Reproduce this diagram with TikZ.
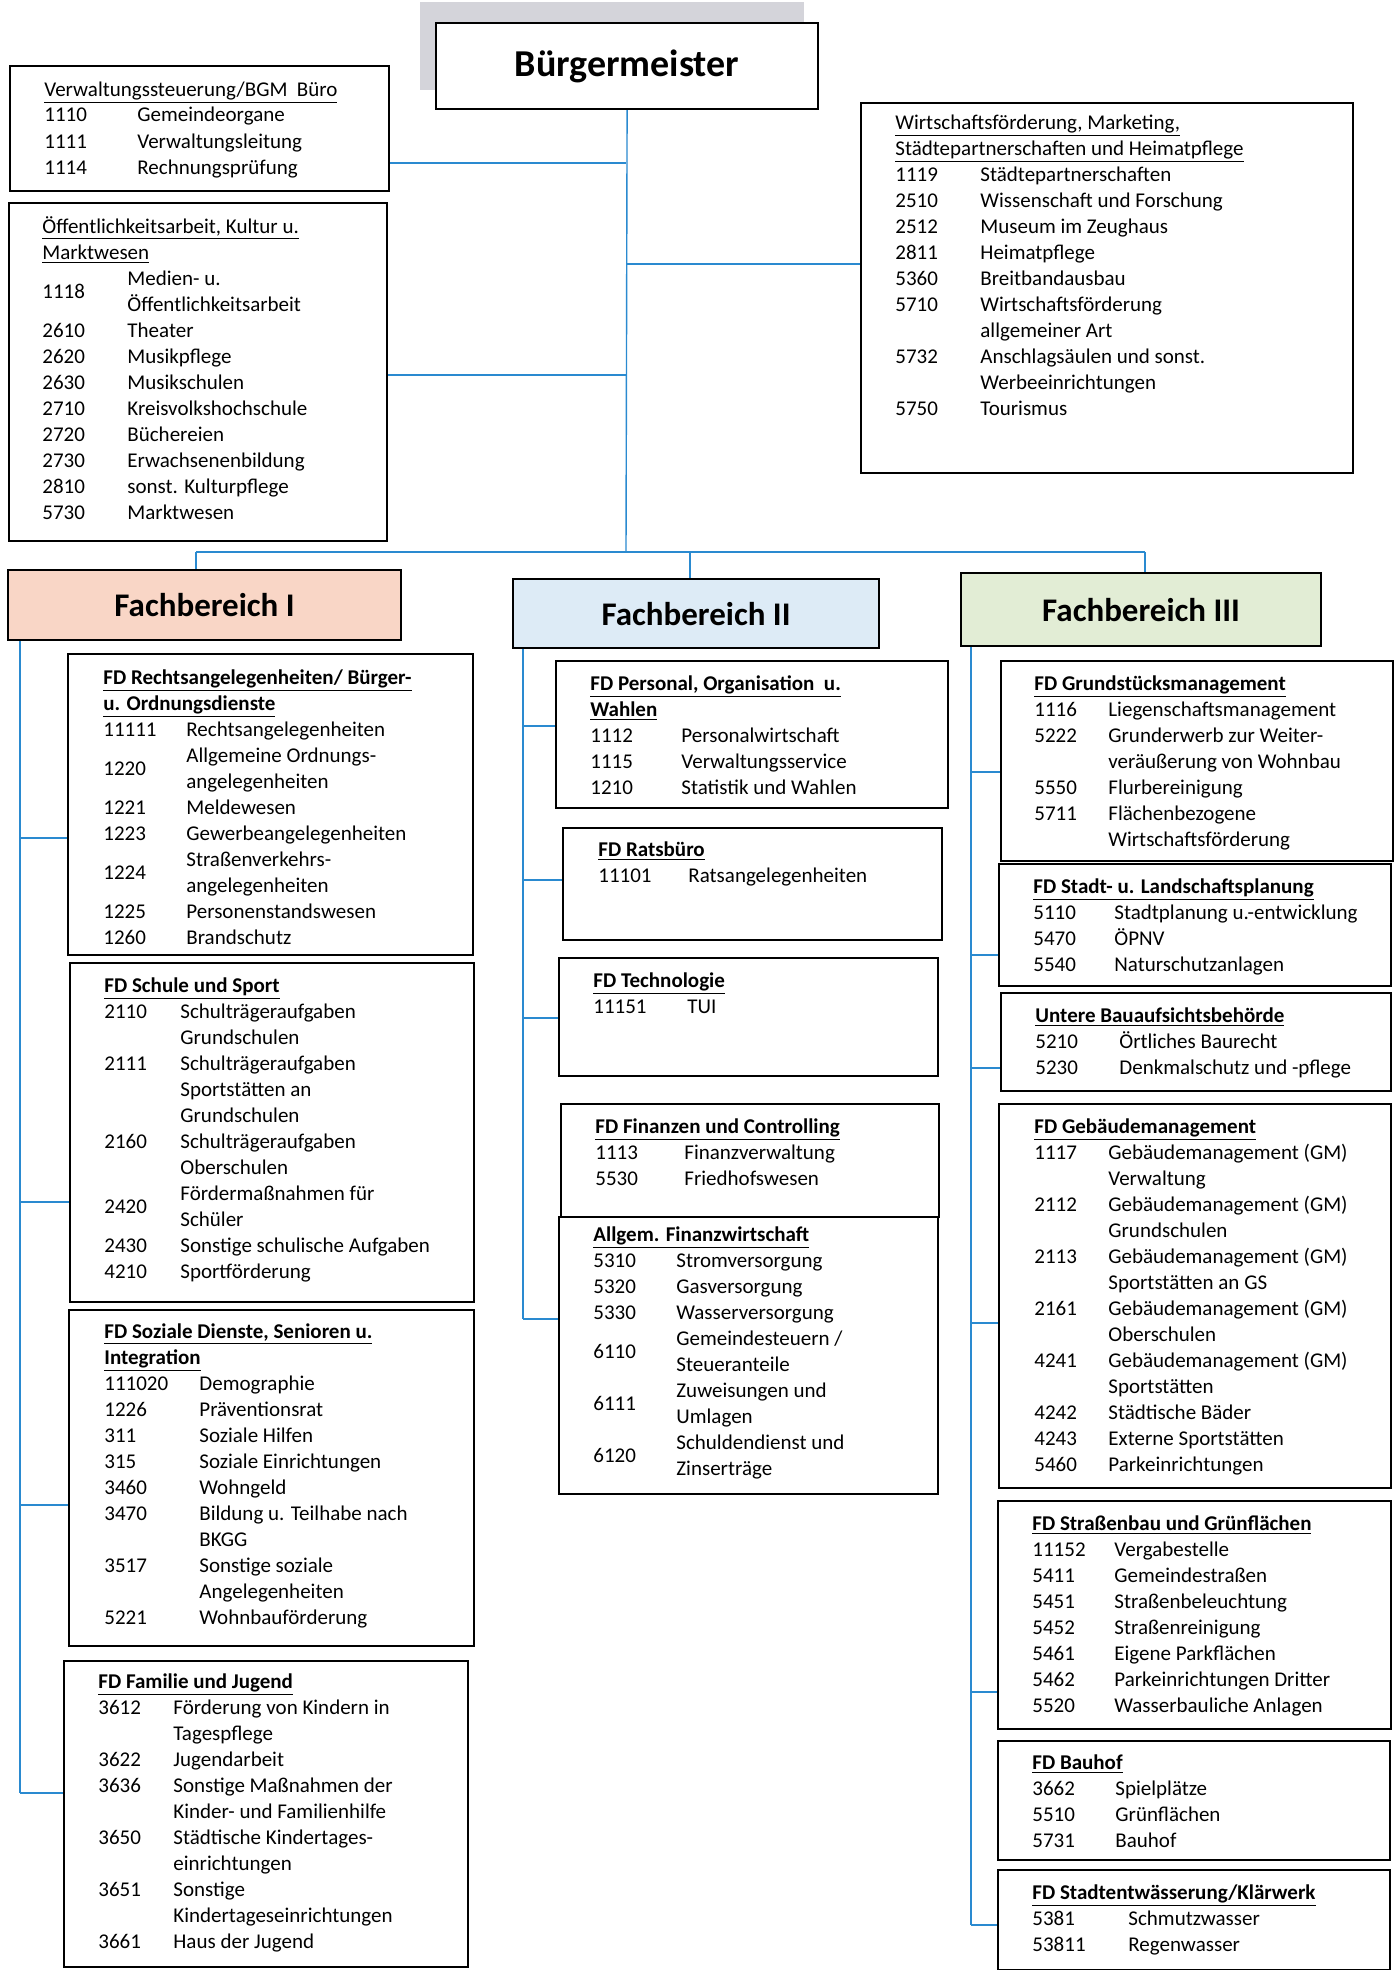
\documentclass[tikz,border=0pt]{standalone}
\usepackage{fontspec}
\setmainfont{Carlito}
\usetikzlibrary{calc}
\definecolor{connblue}{HTML}{2A8AD0}
\definecolor{fbone}{HTML}{F9D6C6}
\definecolor{fbtwo}{HTML}{DDEBF6}
\definecolor{fbthree}{HTML}{E2EDD5}
\definecolor{shadegrey}{HTML}{D4D4DA}
\newcommand\mybox[7]{\node[#6, anchor=north west, minimum width={(#4-#2)*0.5pt}, minimum height={(#5-#3)*0.5pt}] (#1) at (#2,#3) {#7};}
\newcommand\ulx[1]{\raisebox{0pt}[\height][0pt]{\underline{#1}}}
\newcommand\ttl[1]{\multicolumn{2}{@{}l@{}}{\ulx{#1}}\\}
\newcommand\bttl[1]{\multicolumn{2}{@{}l@{}}{\ulx{\textbf{#1}}}\\}
\newcommand\ent[2]{#1 & #2\\}
\newcommand\cont[1]{ & #1\\}
\newcommand\cen[3]{\raisebox{-6.5pt}[0pt][0pt]{#1} & #2\\ & #3\\}
\newcommand\tb[2]{\begin{tabular}[t]{@{}p{#1}@{}l@{}}#2\end{tabular}}
\tikzset{
  orgbox/.style={draw=black, line width=1.1pt, fill=white, inner sep=0pt},
  shadebox/.style={fill=shadegrey, draw=none, inner sep=0pt},
  fbbox/.style={orgbox, font=\bfseries\fontsize{16.5}{20}\selectfont},
  bgmbox/.style={orgbox, font=\bfseries\fontsize{19}{23}\selectfont},
  txt/.style={inner sep=0pt, anchor=base west, font=\fontsize{10.5}{13}\selectfont},
  conn/.style={draw=connblue, line width=0.7pt},
}
\begin{document}
\begin{tikzpicture}[x=0.5pt,y=-0.5pt]
\fill[white] (0,0) rectangle (1398,1970);
\useasboundingbox (0,0) rectangle (1398,1970);

% ---------- top ----------
\mybox{shade}{420}{2}{804}{90}{shadebox}{}
\mybox{bgm}{435}{22}{817}{108}{bgmbox}{Bürgermeister}
\mybox{verw}{9}{65}{388}{190}{orgbox}{}
\mybox{oeff}{8}{202}{386}{540}{orgbox}{}
\mybox{wirt}{860}{102}{1352}{472}{orgbox}{}

\node[txt] (verw-t) at (44,96) {\tb{46.5pt}{%
\ttl{Verwaltungssteuerung/BGM\ \ Büro}
\ent{1110}{Gemeindeorgane}
\ent{1111}{Verwaltungsleitung}
\ent{1114}{Rechnungsprüfung}}};

\node[txt] (oeff-t) at (42,233) {\tb{42.5pt}{%
\ttl{Öffentlichkeitsarbeit, Kultur u.}
\ttl{Marktwesen}
\cen{1118}{Medien- u.}{Öffentlichkeitsarbeit}
\ent{2610}{Theater}
\ent{2620}{Musikpflege}
\ent{2630}{Musikschulen}
\ent{2710}{Kreisvolkshochschule}
\ent{2720}{Büchereien}
\ent{2730}{Erwachsenenbildung}
\ent{2810}{sonst. Kulturpflege}
\ent{5730}{Marktwesen}}};

\node[txt] (wirt-t) at (895,129) {\tb{42.5pt}{%
\ttl{Wirtschaftsförderung, Marketing,}
\ttl{Städtepartnerschaften und Heimatpflege}
\ent{1119}{Städtepartnerschaften}
\ent{2510}{Wissenschaft und Forschung}
\ent{2512}{Museum im Zeughaus}
\ent{2811}{Heimatpflege}
\ent{5360}{Breitbandausbau}
\ent{5710}{Wirtschaftsförderung}
\cont{allgemeiner Art}
\ent{5732}{Anschlagsäulen und sonst.}
\cont{Werbeeinrichtungen}
\ent{5750}{Tourismus}}};

% trunk and top connectors
\coordinate (jverw) at (626,163);
\coordinate (jwirt) at (626,264);
\coordinate (joeff) at (626,375);
\coordinate (jbar) at (626,552);
\draw[conn] (bgm.south) -- (jbar);
\draw[conn] (jverw -| verw.east) -- (jverw);
\draw[conn] (jwirt) -- (jwirt -| wirt.west);
\draw[conn] (joeff -| oeff.east) -- (joeff);

% ---------- Fachbereiche ----------
\mybox{fb1}{7}{569}{400}{639}{fbbox, fill=fbone}{Fachbereich I}
\mybox{fb2}{512}{578}{878}{647}{fbbox, fill=fbtwo}{Fachbereich II}
\mybox{fb3}{960}{572}{1320}{645}{fbbox, fill=fbthree}{Fachbereich III}

\coordinate (barL) at (196,552);
\coordinate (barM) at (690,552);
\coordinate (barR) at (1145,552);
\draw[conn] (barL) -- (barR);
\draw[conn] (barL) -- (barL |- fb1.north);
\draw[conn] (barM) -- (barM |- fb2.north);
\draw[conn] (barR) -- (barR |- fb3.north);

% ---------- column I ----------
\mybox{rechts}{67}{653}{472}{954}{orgbox}{}
\mybox{schule}{69}{962}{473}{1301}{orgbox}{}
\mybox{sozial}{68}{1309}{473}{1645}{orgbox}{}
\mybox{familie}{63}{1660}{467}{1966}{orgbox}{}

\node[txt] (rechts-t) at (103,684) {\tb{41.5pt}{%
\bttl{FD Rechtsangelegenheiten/ Bürger-}
\bttl{u. Ordnungsdienste}
\ent{11111}{Rechtsangelegenheiten}
\cen{1220}{Allgemeine Ordnungs-}{angelegenheiten}
\ent{1221}{Meldewesen}
\ent{1223}{Gewerbeangelegenheiten}
\cen{1224}{Straßenverkehrs-}{angelegenheiten}
\ent{1225}{Personenstandswesen}
\ent{1260}{Brandschutz}}};

\node[txt] (schule-t) at (104,992) {\tb{38pt}{%
\bttl{FD Schule und Sport}
\ent{2110}{Schulträgeraufgaben}
\cont{Grundschulen}
\ent{2111}{Schulträgeraufgaben}
\cont{Sportstätten an}
\cont{Grundschulen}
\ent{2160}{Schulträgeraufgaben}
\cont{Oberschulen}
\cen{2420}{Fördermaßnahmen für}{Schüler}
\ent{2430}{Sonstige schulische Aufgaben}
\ent{4210}{Sportförderung}}};

\node[txt] (sozial-t) at (104,1338) {\tb{47.5pt}{%
\bttl{FD Soziale Dienste, Senioren u.}
\bttl{Integration}
\ent{111020}{Demographie}
\ent{1226}{Präventionsrat}
\ent{311}{Soziale Hilfen}
\ent{315}{Soziale Einrichtungen}
\ent{3460}{Wohngeld}
\ent{3470}{Bildung u. Teilhabe nach}
\cont{BKGG}
\ent{3517}{Sonstige soziale}
\cont{Angelegenheiten}
\ent{5221}{Wohnbauförderung}}};

\node[txt] (familie-t) at (98,1688) {\tb{37.5pt}{%
\bttl{FD Familie und Jugend}
\ent{3612}{Förderung von Kindern in}
\cont{Tagespflege}
\ent{3622}{Jugendarbeit}
\ent{3636}{Sonstige Maßnahmen der}
\cont{Kinder- und Familienhilfe}
\ent{3650}{Städtische Kindertages-}
\cont{einrichtungen}
\ent{3651}{Sonstige}
\cont{Kindertageseinrichtungen}
\ent{3661}{Haus der Jugend}}};

\coordinate (c1rechts) at (20,838);
\coordinate (c1schule) at (20,1202);
\coordinate (c1sozial) at (20,1505);
\coordinate (c1familie) at (20,1793);
\draw[conn] (c1rechts |- fb1.south) -- (c1familie);
\draw[conn] (c1rechts) -- (c1rechts -| rechts.west);
\draw[conn] (c1schule) -- (c1schule -| schule.west);
\draw[conn] (c1sozial) -- (c1sozial -| sozial.west);
\draw[conn] (c1familie) -- (c1familie -| familie.west);

% ---------- column II ----------
\mybox{personal}{555}{660}{947}{807}{orgbox}{}
\mybox{rats}{562}{827}{941}{939}{orgbox}{}
\mybox{tech}{558}{957}{937}{1075}{orgbox}{}
\mybox{finanzen}{560}{1103}{938}{1216}{orgbox}{}
\mybox{allgem}{558}{1216}{937}{1493}{orgbox}{}

\node[txt] (personal-t) at (590,690) {\tb{45.5pt}{%
\bttl{FD Personal, Organisation\ \ u.}
\bttl{Wahlen}
\ent{1112}{Personalwirtschaft}
\ent{1115}{Verwaltungsservice}
\ent{1210}{Statistik und Wahlen}}};

\node[txt] (rats-t) at (598,856) {\tb{45pt}{%
\bttl{FD Ratsbüro}
\ent{11101}{Ratsangelegenheiten}}};

\node[txt] (tech-t) at (593,987) {\tb{47pt}{%
\bttl{FD Technologie}
\ent{11151}{TUI}}};

\node[txt] (finanzen-t) at (595,1133) {\tb{44.5pt}{%
\bttl{FD Finanzen und Controlling}
\ent{1113}{Finanzverwaltung}
\ent{5530}{Friedhofswesen}}};

\node[txt] (allgem-t) at (593,1241) {\tb{41.5pt}{%
\bttl{Allgem. Finanzwirtschaft}
\ent{5310}{Stromversorgung}
\ent{5320}{Gasversorgung}
\ent{5330}{Wasserversorgung}
\cen{6110}{Gemeindesteuern /}{Steueranteile}
\cen{6111}{Zuweisungen und}{Umlagen}
\cen{6120}{Schuldendienst und}{Zinserträge}}};

\coordinate (c2personal) at (523,726);
\coordinate (c2rats) at (523,880);
\coordinate (c2tech) at (523,1018);
\coordinate (c2allgem) at (523,1319);
\draw[conn] (c2personal |- fb2.south) -- (c2allgem);
\draw[conn] (c2personal) -- (c2personal -| personal.west);
\draw[conn] (c2rats) -- (c2rats -| rats.west);
\draw[conn] (c2tech) -- (c2tech -| tech.west);
\draw[conn] (c2allgem) -- (c2allgem -| allgem.west);

% ---------- column III ----------
\mybox{grund}{1000}{660}{1392}{860}{orgbox}{}
\mybox{stadt}{998}{863}{1390}{985}{orgbox}{}
\mybox{bauauf}{1000}{992}{1390}{1090}{orgbox}{}
\mybox{gebaeude}{998}{1103}{1390}{1487}{orgbox}{}
\mybox{strassen}{997}{1500}{1390}{1728}{orgbox}{}
\mybox{bauhof}{997}{1740}{1389}{1859}{orgbox}{}
\mybox{entw}{997}{1869}{1389}{1969}{orgbox}{}

\node[txt] (grund-t) at (1034,690) {\tb{37pt}{%
\bttl{FD Grundstücksmanagement}
\ent{1116}{Liegenschaftsmanagement}
\ent{5222}{Grunderwerb zur Weiter-}
\cont{veräußerung von Wohnbau}
\ent{5550}{Flurbereinigung}
\ent{5711}{Flächenbezogene}
\cont{Wirtschaftsförderung}}};

\node[txt] (stadt-t) at (1033,893) {\tb{40.5pt}{%
\bttl{FD Stadt- u. Landschaftsplanung}
\ent{5110}{Stadtplanung u.-entwicklung}
\ent{5470}{ÖPNV}
\ent{5540}{Naturschutzanlagen}}};

\node[txt] (bauauf-t) at (1035,1022) {\tb{42pt}{%
\bttl{Untere Bauaufsichtsbehörde}
\ent{5210}{Örtliches Baurecht}
\ent{5230}{Denkmalschutz und -pflege}}};

\node[txt] (gebaeude-t) at (1034,1133) {\tb{37pt}{%
\bttl{FD Gebäudemanagement}
\ent{1117}{Gebäudemanagement (GM)}
\cont{Verwaltung}
\ent{2112}{Gebäudemanagement (GM)}
\cont{Grundschulen}
\ent{2113}{Gebäudemanagement (GM)}
\cont{Sportstätten an GS}
\ent{2161}{Gebäudemanagement (GM)}
\cont{Oberschulen}
\ent{4241}{Gebäudemanagement (GM)}
\cont{Sportstätten}
\ent{4242}{Städtische Bäder}
\ent{4243}{Externe Sportstätten}
\ent{5460}{Parkeinrichtungen}}};

\node[txt] (strassen-t) at (1032,1530) {\tb{41pt}{%
\bttl{FD Straßenbau und Grünflächen}
\ent{11152}{Vergabestelle}
\ent{5411}{Gemeindestraßen}
\ent{5451}{Straßenbeleuchtung}
\ent{5452}{Straßenreinigung}
\ent{5461}{Eigene Parkflächen}
\ent{5462}{Parkeinrichtungen Dritter}
\ent{5520}{Wasserbauliche Anlagen}}};

\node[txt] (bauhof-t) at (1032,1769) {\tb{41.5pt}{%
\bttl{FD Bauhof}
\ent{3662}{Spielplätze}
\ent{5510}{Grünflächen}
\ent{5731}{Bauhof}}};

\node[txt] (entw-t) at (1032,1899) {\tb{48pt}{%
\bttl{FD Stadtentwässerung/Klärwerk}
\ent{5381}{Schmutzwasser}
\ent{53811}{Regenwasser}}};

\coordinate (c3grund) at (971,772);
\coordinate (c3stadt) at (971,955);
\coordinate (c3bauauf) at (971,1068);
\coordinate (c3gebaeude) at (971,1323);
\coordinate (c3strassen) at (971,1692);
\coordinate (c3entw) at (971,1925);
\draw[conn] (c3grund |- fb3.south) -- (c3entw);
\draw[conn] (c3grund) -- (c3grund -| grund.west);
\draw[conn] (c3stadt) -- (c3stadt -| stadt.west);
\draw[conn] (c3bauauf) -- (c3bauauf -| bauauf.west);
\draw[conn] (c3gebaeude) -- (c3gebaeude -| gebaeude.west);
\draw[conn] (c3strassen) -- (c3strassen -| strassen.west);
\draw[conn] (c3entw) -- (c3entw -| entw.west);
\end{tikzpicture}
\end{document}
